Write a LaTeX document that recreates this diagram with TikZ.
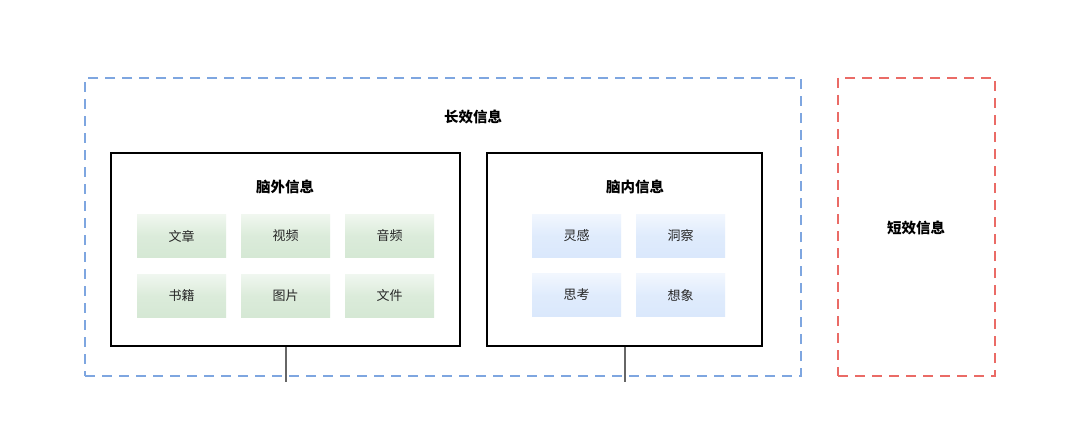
\documentclass[tikz,border=0pt]{standalone}
\usepackage{fontspec}
\setmainfont{Noto Sans CJK SC}
\usetikzlibrary{positioning}
\definecolor{dblue}{HTML}{7EA6E0}
\definecolor{dred}{HTML}{EA6B66}
\definecolor{gfill}{HTML}{D5E8D4}
\definecolor{bfill}{HTML}{DAE8FC}
\definecolor{lgray}{HTML}{666666}
\tikzset{
  grpbox/.style={draw, line width=2.4pt, dash pattern=on 10pt off 7pt},
  panel/.style={draw=black, line width=1.8pt, fill=white},
  gitem/.style={minimum width=89pt, minimum height=43pt, inner sep=0pt, top color=gfill!35!white, bottom color=gfill, middle color=gfill!85!white, font=\fontsize{13pt}{15pt}\selectfont, text=black!85},
  bitem/.style={minimum width=89pt, minimum height=43pt, inner sep=0pt, top color=bfill!35!white, bottom color=bfill, middle color=bfill!85!white, font=\fontsize{13pt}{15pt}\selectfont, text=black!85},
  ttl/.style={font=\bfseries\fontsize{14.5pt}{17pt}\selectfont},
  link/.style={draw=lgray, line width=2pt}
}
\begin{document}
\begin{tikzpicture}[x=1pt,y=-1pt]
\useasboundingbox[fill=white] (0,0) rectangle (1080,444);
% group boxes
\node[grpbox, draw=dblue, minimum width=716pt, minimum height=298pt, inner sep=0pt] (longg) at (443,227) {};
\node[grpbox, draw=dred, minimum width=157pt, minimum height=298pt, inner sep=0pt] (shortg) at (916.5,227) {};
\node[ttl] (longt) at (473,117) {长效信息};
\node[ttl] (shortt) at (916,228) {短效信息};
% panels
\node[panel, minimum width=349pt, minimum height=193pt, inner sep=0pt] (outer) at (285.5,249.5) {};
\node[panel, minimum width=275pt, minimum height=193pt, inner sep=0pt] (inner) at (624.5,249.5) {};
\node[ttl] (outert) at (285,187) {脑外信息};
\node[ttl] (innert) at (635,187) {脑内信息};
% green items
\node[gitem] (g1) at (181.5,236) {文章};
\node[gitem] (g2) at (285.5,236) {视频};
\node[gitem] (g3) at (389.5,236) {音频};
\node[gitem] (g4) at (181.5,295.5) {书籍};
\node[gitem] (g5) at (285.5,295.5) {图片};
\node[gitem] (g6) at (389.5,295.5) {文件};
% blue items
\node[bitem] (b1) at (576.5,235.5) {灵感};
\node[bitem] (b2) at (680.5,235.5) {洞察};
\node[bitem] (b3) at (576.5,295) {思考};
\node[bitem] (b4) at (680.5,295) {想象};
% connectors
\coordinate (e1) at (285.5,382);
\coordinate (e2) at (624.5,382);
\draw[link] (outer.south) -- (e1);
\draw[link] (inner.south) -- (e2);
\end{tikzpicture}
\end{document}
